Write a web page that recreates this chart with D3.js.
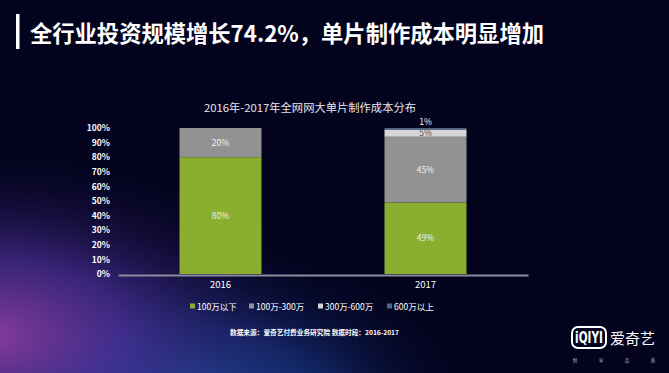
<!DOCTYPE html>
<html>
<head>
<meta charset="utf-8">
<script src="https://cdn.jsdelivr.net/npm/d3@7"></script>
<style>
  html, body { margin: 0; padding: 0; background: #03031e; }
  svg { display: block; }
</style>
</head>
<body>
<div id="chart"></div>
<script>
// 데이터
const years = ['2016', '2017'];
const seriesNames = ['100万以下', '100万-300万', '300万-600万', '600万以上'];
const below100 = [80, 49];
const from100to300 = [20, 45];
const from300to600 = [0, 5];
const above600 = [0, 1];
const yTicks = [0, 10, 20, 30, 40, 50, 60, 70, 80, 90, 100];
const seriesColors = ['#8aae2f', '#929292', '#d6d6d8', '#4b6688'];

const W = 669, H = 373;
const FONT = '"Noto Sans CJK SC", sans-serif';

const svg = d3.select('#chart').append('svg')
  .attr('width', W).attr('height', H);

const defs = svg.append('defs');

// 배경 그라데이션 (좌하단 보라, 하단 파랑)
const gBlue = defs.append('radialGradient').attr('id', 'glowBlue')
  .attr('cx', 0.27).attr('cy', 1.08).attr('r', 0.45);
gBlue.append('stop').attr('offset', '0%').attr('stop-color', '#2764c6').attr('stop-opacity', 1);
gBlue.append('stop').attr('offset', '45%').attr('stop-color', '#1c3f98').attr('stop-opacity', 0.65);
gBlue.append('stop').attr('offset', '100%').attr('stop-color', '#03031e').attr('stop-opacity', 0);

const gPurple = defs.append('radialGradient').attr('id', 'glowPurple')
  .attr('cx', -0.02).attr('cy', 0.9).attr('r', 0.52);
gPurple.append('stop').attr('offset', '0%').attr('stop-color', '#8a3c9c').attr('stop-opacity', 1);
gPurple.append('stop').attr('offset', '40%').attr('stop-color', '#4a2e94').attr('stop-opacity', 0.75);
gPurple.append('stop').attr('offset', '100%').attr('stop-color', '#03031e').attr('stop-opacity', 0);

svg.append('rect').attr('width', W).attr('height', H).attr('fill', '#03031e');
svg.append('rect').attr('width', W).attr('height', H).attr('fill', 'url(#glowBlue)');
svg.append('rect').attr('width', W).attr('height', H).attr('fill', 'url(#glowPurple)');

// 제목
svg.append('rect').attr('x', 16).attr('y', 14).attr('width', 3.5).attr('height', 35).attr('fill', '#ffffff');
svg.append('text')
  .attr('x', 30).attr('y', 42)
  .attr('fill', '#ffffff')
  .attr('font-family', FONT)
  .attr('font-size', 22.5)
  .attr('font-weight', 700)
  .attr('textLength', 514).attr('lengthAdjust', 'spacingAndGlyphs')
  .text('全行业投资规模增长74.2%，单片制作成本明显增加');

svg.append('text')
  .attr('x', 310).attr('y', 112)
  .attr('text-anchor', 'middle')
  .attr('fill', '#e6e6ee')
  .attr('font-family', FONT)
  .attr('font-size', 11)
  .attr('textLength', 212).attr('lengthAdjust', 'spacingAndGlyphs')
  .text('2016年-2017年全网网大单片制作成本分布');

// 스케일
const x = d3.scaleBand().domain(years).range([118, 528]).paddingInner(0.6).paddingOuter(0.3);
const y = d3.scaleLinear().domain([0, 100]).range([274, 128]);

// 스택 데이터
const rows = years.map((yr, i) => ({
  year: yr,
  [seriesNames[0]]: below100[i],
  [seriesNames[1]]: from100to300[i],
  [seriesNames[2]]: from300to600[i],
  [seriesNames[3]]: above600[i]
}));
const stacked = d3.stack().keys(seriesNames)(rows);

// Y축
const yAxis = svg.append('g')
  .attr('transform', 'translate(110,0)')
  .call(d3.axisLeft(y).tickValues(yTicks).tickFormat(d => d + '%').tickSize(0).tickPadding(0));
yAxis.select('.domain').remove();
yAxis.selectAll('text')
  .attr('fill', '#ffffff')
  .attr('font-family', FONT)
  .attr('font-size', 8.5)
  .attr('font-weight', 700);

// 막대
const layers = svg.append('g').selectAll('g')
  .data(stacked)
  .join('g')
  .attr('fill', (d, i) => seriesColors[i]);

layers.selectAll('rect')
  .data(d => d)
  .join('rect')
  .attr('x', d => x(d.data.year))
  .attr('width', x.bandwidth())
  .attr('y', d => y(d[1]))
  .attr('height', d => y(d[0]) - y(d[1]));

// X축 (기준선)
const xAxis = svg.append('g')
  .attr('transform', 'translate(0,' + (y(0) + 1) + ')')
  .call(d3.axisBottom(x).tickSize(0).tickPadding(6));
xAxis.select('.domain').attr('stroke', '#8c8c9e').attr('stroke-width', 2);
xAxis.selectAll('text')
  .attr('fill', '#ffffff')
  .attr('font-family', FONT)
  .attr('font-size', 9.5);

// 데이터 라벨
stacked.forEach((layer, si) => {
  layer.forEach(d => {
    const v = d[1] - d[0];
    if (v <= 0) return;
    const cx = x(d.data.year) + x.bandwidth() / 2;
    let cy, fill = '#f2f2f2';
    if (v < 2) {
      cy = y(d[1]) - 3;
    } else {
      cy = (y(d[0]) + y(d[1])) / 2 + 3;
      if (si === 2) fill = '#50505a';
    }
    svg.append('text')
      .attr('x', cx).attr('y', cy)
      .attr('text-anchor', 'middle')
      .attr('fill', fill)
      .attr('font-family', FONT)
      .attr('font-size', 8.5)
      .text(v + '%');
  });
});

// 범례
const legendX = [190, 249, 318, 387];
const legend = svg.append('g').selectAll('g')
  .data(seriesNames)
  .join('g')
  .attr('transform', (d, i) => `translate(${legendX[i]},310)`);
legend.append('rect').attr('x', 0).attr('y', -6.5).attr('width', 5).attr('height', 5)
  .attr('fill', (d, i) => seriesColors[i]);
legend.append('text').attr('x', 7).attr('y', 0)
  .attr('fill', '#ffffff')
  .attr('font-family', FONT)
  .attr('font-size', 8.5)
  .text(d => d);

// 출처
svg.append('text')
  .attr('x', 230).attr('y', 335)
  .attr('fill', '#ffffff')
  .attr('font-family', FONT)
  .attr('font-size', 6.5)
  .attr('font-weight', 700)
  .attr('textLength', 169).attr('lengthAdjust', 'spacingAndGlyphs')
  .text('数据来源：爱奇艺付费业务研究院   数据时段：2016-2017');

// 로고
const logo = svg.append('g').attr('transform', 'translate(572,327)');
logo.append('rect').attr('x', 0).attr('y', 0).attr('width', 34).attr('height', 21).attr('rx', 6)
  .attr('fill', 'none').attr('stroke', '#ffffff').attr('stroke-width', 2);
logo.append('g').attr('transform', 'translate(17,16) scale(1,1.45)')
  .append('text').attr('x', 0).attr('y', 0).attr('text-anchor', 'middle')
  .attr('fill', '#ffffff')
  .attr('font-family', '"DejaVu Sans", sans-serif')
  .attr('font-size', 10.5).attr('font-weight', 700)
  .text('iQIYI');
logo.append('text').attr('x', 38).attr('y', 17)
  .attr('fill', '#ffffff')
  .attr('font-family', FONT)
  .attr('font-size', 15)
  .text('爱奇艺');
logo.selectAll('.slogan')
  .data(['悦', '享', '品', '质'])
  .join('text')
  .attr('class', 'slogan')
  .attr('x', (d, i) => 3 + i * 26)
  .attr('y', 35)
  .attr('text-anchor', 'middle')
  .attr('fill', '#b8b8c8')
  .attr('font-family', FONT)
  .attr('font-size', 4.5)
  .text(d => d);
</script>
</body>
</html>
